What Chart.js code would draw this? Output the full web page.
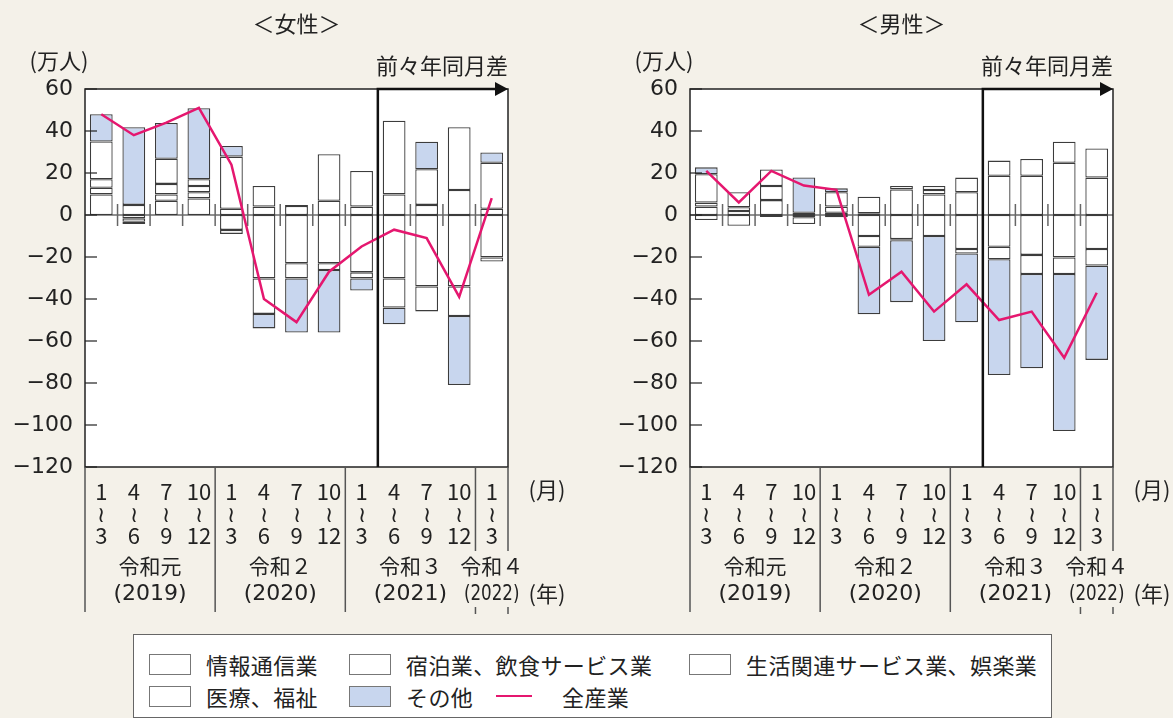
<!DOCTYPE html>
<html lang="ja">
<head>
<meta charset="utf-8">
<script src="https://cdn.jsdelivr.net/npm/chart.js@4.4.1/dist/chart.umd.min.js"></script>
<style>
  html, body { margin: 0; padding: 0; }
  body {
    width: 1173px; height: 718px; position: relative; overflow: hidden;
    background: #f4f1e9; font-family: "Noto Sans CJK JP", sans-serif; color: #222;
  }
  .panel { position: absolute; top: 0; }
  #legend {
    position: absolute; left: 133px; top: 634px; width: 919px; height: 84px;
    box-sizing: border-box; border: 1.5px solid #666; background: #fff;
    font-size: 22px; letter-spacing: 0.4px;
  }
  .item { position: absolute; display: flex; align-items: center; height: 26px; white-space: nowrap; }
  .swatch { width: 42px; height: 21px; box-sizing: border-box; border: 1.5px solid #777; background: #fff; margin-right: 15px; }
  .swatch.other { background: #c8d6ee; }
  .line { width: 36px; height: 2.5px; background: #e5176f; margin-right: 30px; }
</style>
</head>
<body>
<canvas id="female" class="panel" style="left:0" width="568" height="630"></canvas>
<canvas id="male" class="panel" style="left:605px" width="568" height="630"></canvas>

<div id="legend">
  <div class="item" style="left:15px; top:16px"><span class="swatch"></span>情報通信業</div>
  <div class="item" style="left:215px; top:16px"><span class="swatch"></span>宿泊業、飲食サービス業</div>
  <div class="item" style="left:555px; top:16px"><span class="swatch"></span>生活関連サービス業、娯楽業</div>
  <div class="item" style="left:15px; top:48px"><span class="swatch"></span>医療、福祉</div>
  <div class="item" style="left:215px; top:48px"><span class="swatch other"></span>その他</div>
  <div class="item" style="left:362px; top:48px"><span class="line"></span>全産業</div>
</div>

<script>
const FONT = '"Noto Sans CJK JP", "Noto Sans", sans-serif';
const NUM_FONT = '"DejaVu Sans", "Noto Sans CJK JP", sans-serif';

const quarterLabels = [
    ['1', '≀', '3'], ['4', '≀', '6'], ['7', '≀', '9'], ['10', '≀', '12'],
    ['1', '≀', '3'], ['4', '≀', '6'], ['7', '≀', '9'], ['10', '≀', '12'],
    ['1', '≀', '3'], ['4', '≀', '6'], ['7', '≀', '9'], ['10', '≀', '12'],
    ['1', '≀', '3'],
];
const yearNames = ['令和元', '令和２', '令和３', '令和４'];
const yearWestern = ['(2019)', '(2020)', '(2021)', '(2022)'];
const yearFirst = [0, 4, 8, 12];
const yearLast = [3, 7, 11, 12];
const yTicks = [60, 40, 20, 0, -20, -40, -60, -80, -100, -120];
// from this quarter on the values are differences from two years earlier
const twoYearStart = 9;

// 女性 (万人)
const femaleInfo = [9.8, 4.8, 6.8, 7.9, 3.0, 4.0, 4.3, 6.8, 4.0, 9.8, 4.8, 11.9, 3.0];
const femaleMedical = [3.2, -1.6, 3.0, 2.9, 24.8, 9.8, 0.5, 22.1, 17.0, 35.1, 17.0, 29.9, 21.9];
const femaleHospitality = [4.0, -1.6, 5.0, 3.0, -7.1, -30.2, -23.0, -23.0, -27.3, -30.2, -34.0, -34.0, -20.2];
const femaleLifestyle = [18.0, -1.1, 12.0, 3.2, -1.9, -16.9, -7.2, -3.2, -2.9, -13.9, -11.9, -14.1, -2.0];
const femaleOther = [13.0, 37.0, 17.0, 33.8, 5.1, -6.9, -25.8, -29.8, -5.8, -7.9, 13.1, -32.9, 4.9];
const femaleTotal = [48, 38, 44, 51, 24, -40, -51, -27, -15, -7, -11, -39, 8];

// 男性 (万人)
const maleInfo = [4.0, 1.9, 7.1, 1.1, 1.1, 0.8, 12.2, 9.8, 10.8, 18.7, 18.7, 24.9, 17.8];
const maleMedical = [1.9, 1.8, 6.7, null, 2.9, 7.9, 1.6, 2.1, 7.0, 7.2, 8.0, 10.0, 13.9];
const maleHospitality = [13.5, 7.1, 7.9, -1.1, 6.8, -10.0, -11.5, 1.9, -16.2, -15.1, -19.0, -20.2, -16.2];
const maleLifestyle = [-2.4, -5.1, null, -3.2, -1.1, -5.1, -0.5, -10.0, -2.1, -6.0, -9.1, -7.9, -7.9];
const maleOther = [3.3, null, -1.0, 16.8, 1.9, -32.2, -29.5, -50.0, -32.8, -55.1, -44.9, -74.8, -44.9];
const maleTotal = [21, 6, 21, 14, 12, -38, -27, -46, -33, -50, -46, -68, -37];

function barSet(label, data, fill) {
    return {
        type: 'bar',
        label,
        data,
        backgroundColor: fill,
        borderColor: '#3c3c3c',
        borderWidth: 1.3,
        borderSkipped: false,
        barPercentage: 0.7,
        categoryPercentage: 1,
        stack: 'industry',
        order: 1,
    };
}

function boundaryX(x, k) {
    const w = x.getPixelForValue(1) - x.getPixelForValue(0);
    return x.getPixelForValue(0) - w / 2 + k * w;
}

const decorations = {
    id: 'decorations',
    beforeDatasetsDraw(chart) {
        const { ctx, chartArea: a, scales: { x, y } } = chart;
        ctx.save();
        ctx.fillStyle = '#fff';
        ctx.fillRect(a.left, a.top, a.right - a.left, a.bottom - a.top);

        const zero = y.getPixelForValue(0);
        ctx.strokeStyle = '#222';
        ctx.lineWidth = 1.2;
        ctx.beginPath();
        ctx.moveTo(a.left, zero);
        ctx.lineTo(a.right, zero);
        ctx.stroke();

        // short marks on the zero line between quarters
        ctx.strokeStyle = '#666';
        ctx.lineWidth = 1.5;
        for (let k = 1; k < quarterLabels.length; k++) {
            const bx = boundaryX(x, k);
            ctx.beginPath();
            ctx.moveTo(bx, zero - 11);
            ctx.lineTo(bx, zero + 11);
            ctx.stroke();
        }
        ctx.restore();
    },
    afterDraw(chart, args, opts) {
        const { ctx, chartArea: a, scales: { x, y } } = chart;
        ctx.save();

        // frame
        ctx.strokeStyle = '#222';
        ctx.lineWidth = 1.5;
        ctx.strokeRect(a.left, a.top, a.right - a.left, a.bottom - a.top);

        // inward ticks
        ctx.lineWidth = 1.2;
        yTicks.forEach(v => {
            const py = y.getPixelForValue(v);
            ctx.beginPath();
            ctx.moveTo(a.left, py);
            ctx.lineTo(a.left + 12, py);
            ctx.stroke();
        });

        // two-year comparison marker and arrow
        const sx = boundaryX(x, twoYearStart);
        ctx.strokeStyle = '#111';
        ctx.lineWidth = 2.5;
        ctx.beginPath();
        ctx.moveTo(sx, a.bottom);
        ctx.lineTo(sx, a.top);
        ctx.lineTo(a.right - 10, a.top);
        ctx.stroke();
        ctx.fillStyle = '#111';
        ctx.beginPath();
        ctx.moveTo(a.right - 13, a.top - 7);
        ctx.lineTo(a.right, a.top);
        ctx.lineTo(a.right - 13, a.top + 7);
        ctx.closePath();
        ctx.fill();

        ctx.fillStyle = '#222';
        ctx.textBaseline = 'middle';
        ctx.font = '22px ' + FONT;
        ctx.textAlign = 'right';
        ctx.fillText('前々年同月差', a.right, 66);
        ctx.textAlign = 'center';
        ctx.fillText(opts.title, (a.left + a.right) / 2, 24);
        ctx.fillText('(万人)', a.left - 26, 61);

        // quarter/year separators below the axis
        ctx.strokeStyle = '#555';
        ctx.lineWidth = 1.5;
        const sepBottom = 612;
        yearFirst.forEach((f, i) => {
            const bx = boundaryX(x, f);
            ctx.beginPath();
            ctx.moveTo(bx, a.bottom);
            ctx.lineTo(bx, i === 3 ? 551 : sepBottom);
            ctx.stroke();
        });
        const ex = boundaryX(x, quarterLabels.length);
        ctx.beginPath();
        ctx.moveTo(ex, a.bottom);
        ctx.lineTo(ex, 551);
        ctx.stroke();
        [boundaryX(x, 12), ex].forEach(bx => {
            ctx.beginPath();
            ctx.moveTo(bx, 607);
            ctx.lineTo(bx, 614);
            ctx.stroke();
        });

        yearNames.forEach((name, i) => {
            const cx = (boundaryX(x, yearFirst[i]) + boundaryX(x, yearLast[i] + 1)) / 2;
            ctx.font = '21px ' + FONT;
            ctx.fillText(name, cx, 566);
            ctx.font = '22px ' + NUM_FONT;
            ctx.save();
            ctx.translate(cx, 594);
            ctx.scale(i === 3 ? 0.76 : 1, 1);
            ctx.fillText(yearWestern[i], 0, 0);
            ctx.restore();
        });
        ctx.font = '22px ' + FONT;
        ctx.fillText('(月)', a.right + 39, 490);
        ctx.fillText('(年)', a.right + 39, 594);
        ctx.restore();
    },
};

function makeChart(id, title, info, medical, hospitality, lifestyle, other, total) {
    return new Chart(document.getElementById(id), {
        type: 'bar',
        data: {
            labels: quarterLabels,
            datasets: [
                {
                    type: 'line',
                    label: '全産業',
                    data: total,
                    borderColor: '#e5176f',
                    borderWidth: 2.5,
                    pointRadius: 0,
                    tension: 0,
                    stack: 'all',
                    order: 0,
                },
                barSet('情報通信業', info, '#fff'),
                barSet('医療、福祉', medical, '#fff'),
                barSet('宿泊業、飲食サービス業', hospitality, '#fff'),
                barSet('生活関連サービス業、娯楽業', lifestyle, '#fff'),
                barSet('その他', other, '#c8d6ee'),
            ],
        },
        options: {
            responsive: false,
            animation: false,
            layout: { padding: { top: 89, right: 60, left: 0, bottom: 0 } },
            plugins: {
                legend: { display: false },
                tooltip: { enabled: false },
                decorations: { title },
            },
            scales: {
                x: {
                    stacked: true,
                    grid: { display: false, drawTicks: false },
                    border: { display: false },
                    ticks: {
                        color: '#222',
                        padding: 14,
                        maxRotation: 0,
                        autoSkip: false,
                        font: { family: FONT, size: 22, lineHeight: 1.0 },
                    },
                    afterFit: s => { s.height = 163; },
                },
                y: {
                    stacked: true,
                    min: -120,
                    max: 60,
                    grid: { display: false, drawTicks: false },
                    border: { display: false },
                    ticks: {
                        stepSize: 20,
                        color: '#222',
                        padding: 12,
                        font: { family: NUM_FONT, size: 22 },
                        callback: v => (v < 0 ? '−' + Math.abs(v) : String(v)),
                    },
                    afterFit: s => { s.width = 85; },
                },
            },
        },
        plugins: [decorations],
    });
}

makeChart('female', '＜女性＞', femaleInfo, femaleMedical, femaleHospitality, femaleLifestyle, femaleOther, femaleTotal);
makeChart('male', '＜男性＞', maleInfo, maleMedical, maleHospitality, maleLifestyle, maleOther, maleTotal);
</script>
</body>
</html>
